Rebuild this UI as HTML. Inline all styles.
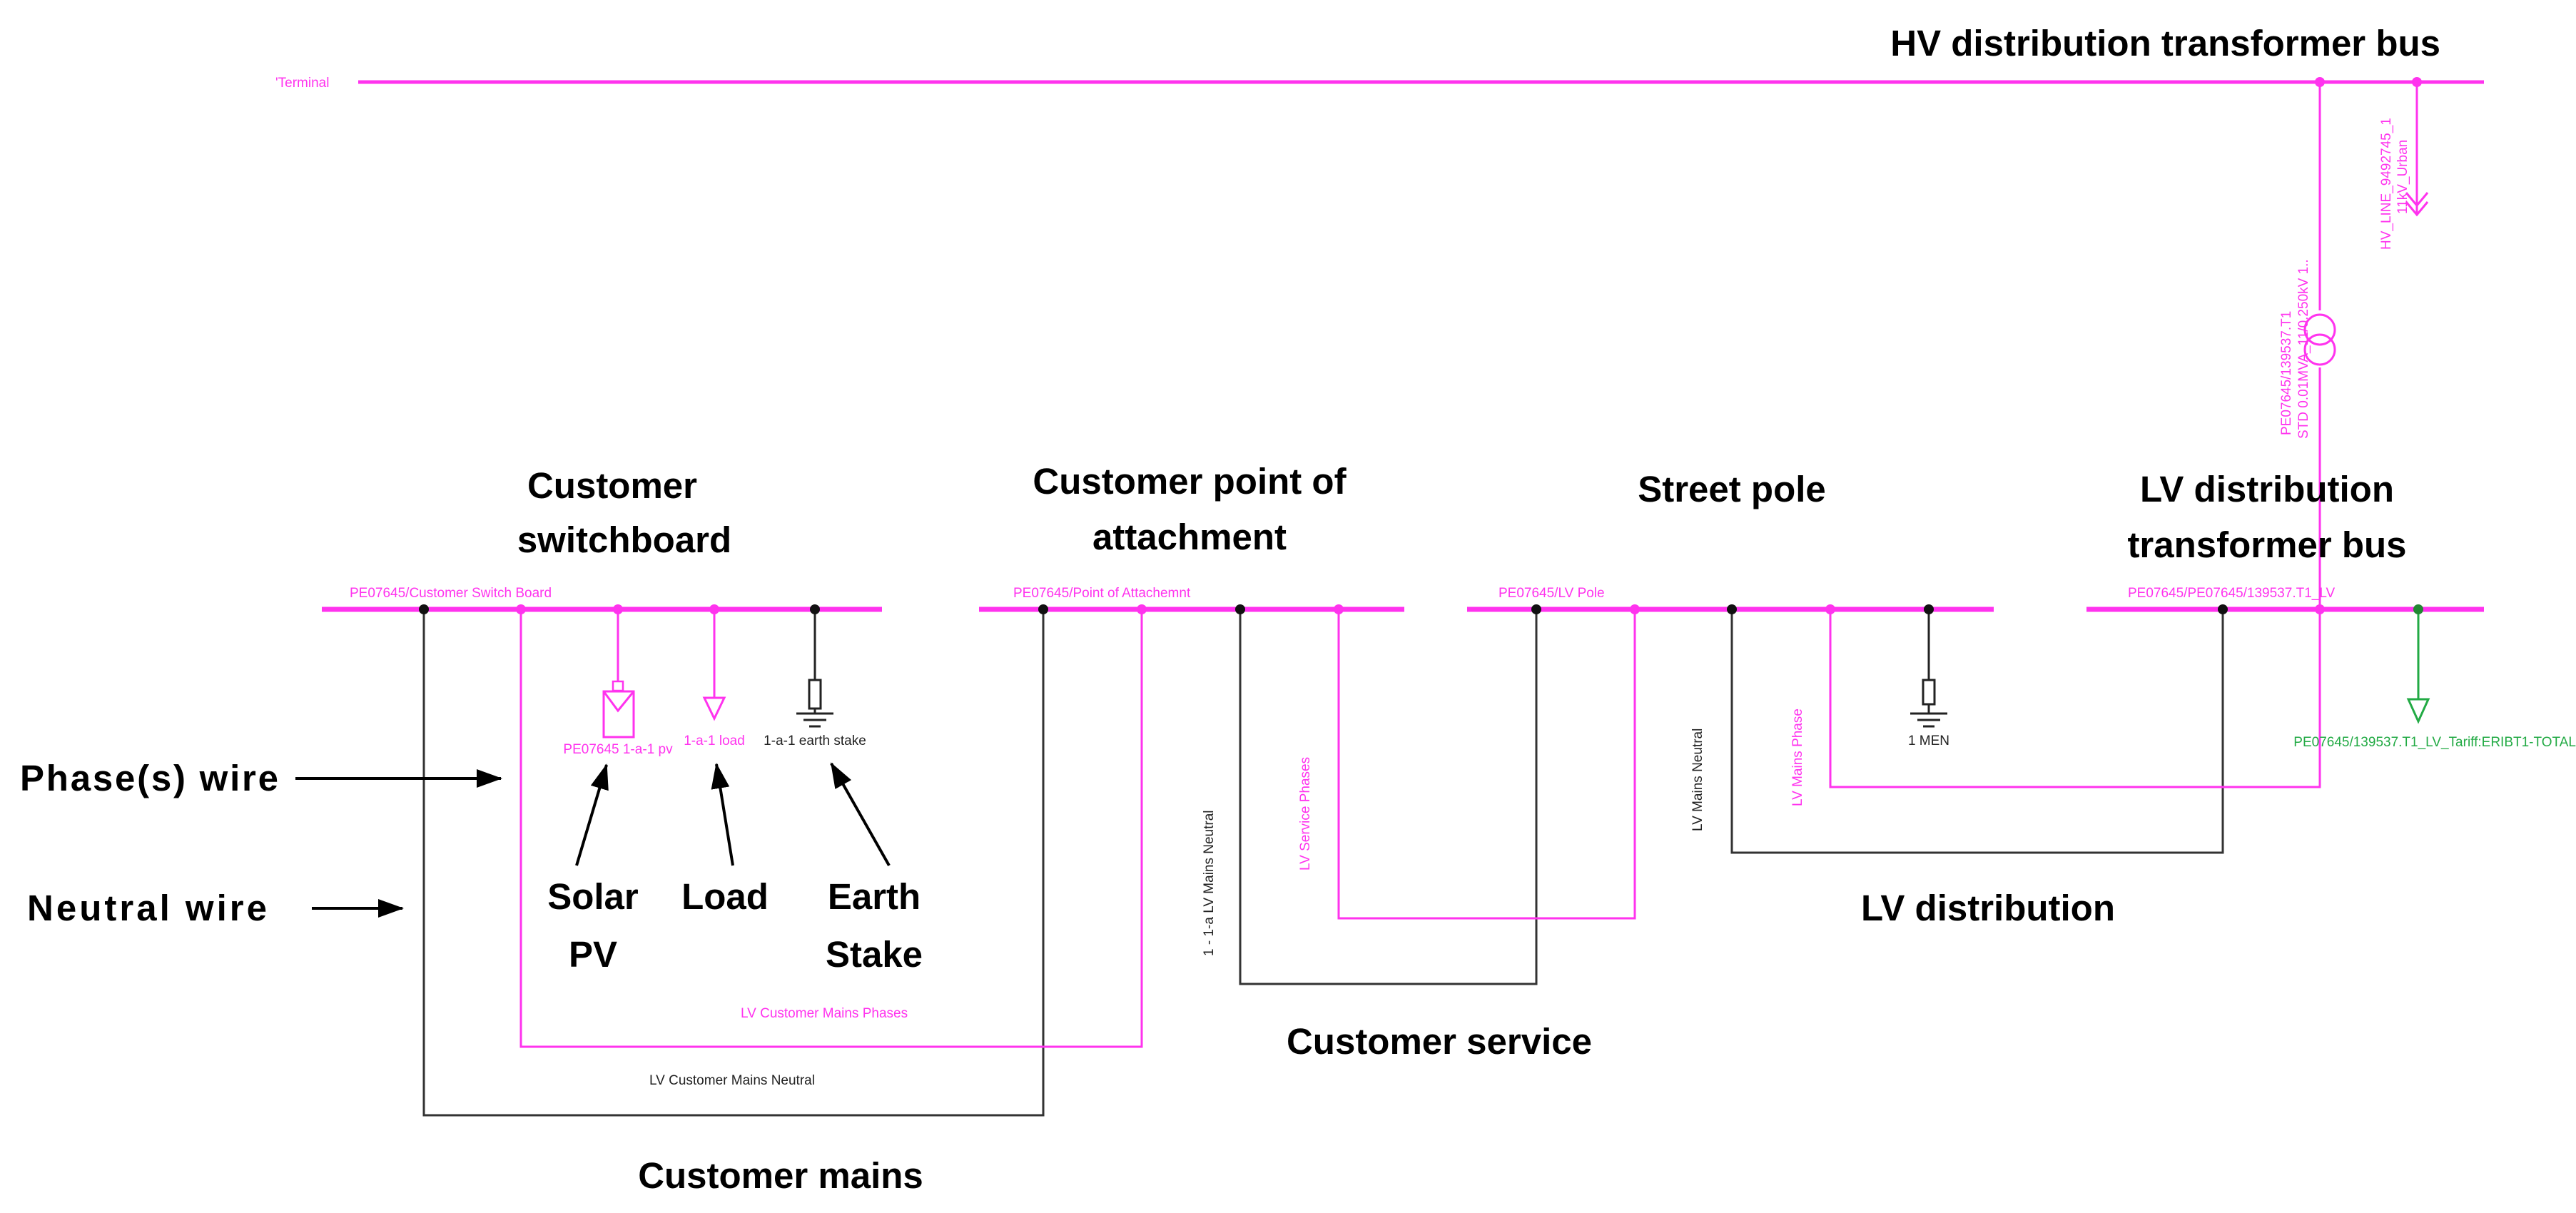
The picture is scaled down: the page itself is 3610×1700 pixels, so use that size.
<!DOCTYPE html>
<html><head><meta charset="utf-8"><style>
html,body{margin:0;padding:0;background:#fff}
svg{display:block}
.b{font-family:"Liberation Sans",sans-serif;font-weight:bold;font-size:51px;fill:#000}
.s{font-family:"Liberation Sans",sans-serif;font-size:19px}
.p{fill:#ff33ee}.k{fill:#222}.g{fill:#22aa44}
</style></head><body>
<svg width="3610" height="1700" viewBox="0 0 3610 1700" xmlns="http://www.w3.org/2000/svg">
<defs>
<marker id="ar2" markerWidth="36" markerHeight="26" refX="34" refY="13" orient="auto" markerUnits="userSpaceOnUse"><path d="M0,0 L36,13 L0,26z" fill="#000"/></marker></defs>

<!-- HV bus -->
<text x="386" y="122" class="s p" font-size="17">'Terminal</text>
<line x1="502" y1="115" x2="3481" y2="115" stroke="#ff33ee" stroke-width="5"/>
<text x="3420" y="78" class="b" text-anchor="end">HV distribution transformer bus</text>

<!-- buses -->
<g stroke="#ff33ee" stroke-width="7">
<line x1="451" y1="854" x2="1236" y2="854"/>
<line x1="1372" y1="854" x2="1968" y2="854"/>
<line x1="2056" y1="854" x2="2794" y2="854"/>
<line x1="2924" y1="854" x2="3481" y2="854"/>
</g>
<g class="s p">
<text x="490" y="837">PE07645/Customer Switch Board</text>
<text x="1420" y="837">PE07645/Point of Attachemnt</text>
<text x="2100" y="837">PE07645/LV Pole</text>
<text x="2982" y="837">PE07645/PE07645/139537.T1_LV</text>
</g>

<!-- wires -->
<g fill="none" stroke-width="3">
<polyline stroke="#333" points="594,854 594,1563 1462,1563 1462,854"/>
<polyline stroke="#ff33ee" points="730,854 730,1467 1600,1467 1600,854"/>
<polyline stroke="#333" points="1738,854 1738,1379 2153,1379 2153,854"/>
<polyline stroke="#ff33ee" points="1876,854 1876,1287 2291,1287 2291,854"/>
<polyline stroke="#333" points="2427,854 2427,1195 3115,1195 3115,854"/>
<polyline stroke="#ff33ee" points="2565,854 2565,1103 3251,1103 3251,115"/>
</g>

<!-- transformer -->
<rect x="3225" y="435" width="52" height="80" fill="#fff"/>
<circle cx="3251" cy="462" r="21" fill="none" stroke="#ff33ee" stroke-width="3"/>
<circle cx="3251" cy="490" r="21" fill="none" stroke="#ff33ee" stroke-width="3"/>
<g class="s p" font-size="17">
<text transform="translate(3210,610) rotate(-90)">PE07645/139537.T1</text>
<text transform="translate(3234,615) rotate(-90)">STD 0.01MVA_11/0.250kV 1..</text>
<text transform="translate(3350,350) rotate(-90)">HV_LINE_9492745_1</text>
<text transform="translate(3373,300) rotate(-90)">11kV_Urban</text>
</g>
<line x1="3387" y1="115" x2="3387" y2="300" stroke="#ff33ee" stroke-width="3"/>
<polyline points="3372,270 3387,288 3402,270" fill="none" stroke="#ff33ee" stroke-width="3"/>
<polyline points="3372,283 3387,301 3402,283" fill="none" stroke="#ff33ee" stroke-width="3"/>

<!-- PV -->
<line x1="866" y1="854" x2="866" y2="955" stroke="#ff33ee" stroke-width="3"/>
<rect x="859" y="955" width="14" height="13" fill="none" stroke="#ff33ee" stroke-width="2.5"/>
<rect x="846" y="969" width="42" height="64" fill="none" stroke="#ff33ee" stroke-width="3"/>
<polyline points="846,969 866,996 888,969" fill="none" stroke="#ff33ee" stroke-width="3"/>
<text x="866" y="1056" class="s p" text-anchor="middle">PE07645 1-a-1 pv</text>
<!-- load -->
<line x1="1001" y1="854" x2="1001" y2="978" stroke="#ff33ee" stroke-width="3"/>
<polygon points="987,978 1015,978 1001,1007" fill="none" stroke="#ff33ee" stroke-width="3"/>
<text x="1001" y="1044" class="s p" text-anchor="middle">1-a-1 load</text>
<!-- earth stake -->
<g stroke="#222" stroke-width="3" fill="none">
<line x1="1142" y1="854" x2="1142" y2="953"/>
<rect x="1134" y="953" width="16" height="40"/>
<line x1="1142" y1="993" x2="1142" y2="1000"/>
<line x1="1116" y1="1000" x2="1168" y2="1000"/>
<line x1="1126" y1="1009" x2="1158" y2="1009"/>
<line x1="1134" y1="1018" x2="1150" y2="1018"/>
<line x1="2703" y1="854" x2="2703" y2="953"/>
<rect x="2695" y="953" width="16" height="34"/>
<line x1="2703" y1="987" x2="2703" y2="1000"/>
<line x1="2677" y1="1000" x2="2729" y2="1000"/>
<line x1="2687" y1="1009" x2="2719" y2="1009"/>
<line x1="2695" y1="1018" x2="2711" y2="1018"/>
</g>
<text x="1142" y="1044" class="s k" text-anchor="middle">1-a-1 earth stake</text>
<text x="2703" y="1044" class="s k" text-anchor="middle">1 MEN</text>
<!-- green load -->
<line x1="3389" y1="854" x2="3389" y2="980" stroke="#22aa44" stroke-width="3"/>
<polygon points="3375,980 3403,980 3389,1011" fill="none" stroke="#22aa44" stroke-width="3"/>
<text x="3610" y="1046" class="s g" text-anchor="end" font-size="17">PE07645/139537.T1_LV_Tariff:ERIBT1-TOTAL</text>

<!-- dots -->
<g fill="#111">
<circle cx="594" cy="854" r="7"/><circle cx="1142" cy="854" r="7"/>
<circle cx="1462" cy="854" r="7"/><circle cx="1738" cy="854" r="7"/>
<circle cx="2153" cy="854" r="7"/><circle cx="2427" cy="854" r="7"/><circle cx="2703" cy="854" r="7"/>
<circle cx="3115" cy="854" r="7"/>
</g>
<g fill="#ff33ee">
<circle cx="730" cy="854" r="7"/><circle cx="866" cy="854" r="7"/><circle cx="1001" cy="854" r="7"/>
<circle cx="1600" cy="854" r="7"/><circle cx="1876" cy="854" r="7"/>
<circle cx="2291" cy="854" r="7"/><circle cx="2565" cy="854" r="7"/>
<circle cx="3251" cy="854" r="7"/><circle cx="3251" cy="115" r="7"/><circle cx="3387" cy="115" r="7"/>
</g>
<circle cx="3389" cy="854" r="7" fill="#228833"/>

<!-- wire labels -->
<g class="s" font-size="17">
<text transform="translate(1700,1340) rotate(-90)" class="k">1 - 1-a LV Mains Neutral</text>
<text transform="translate(1835,1220) rotate(-90)" class="p">LV Service Phases</text>
<text transform="translate(2385,1165) rotate(-90)" class="k">LV Mains Neutral</text>
<text transform="translate(2525,1130) rotate(-90)" class="p">LV Mains Phase</text>
<text x="1038" y="1426" class="p">LV Customer Mains Phases</text>
<text x="910" y="1520" class="k">LV Customer Mains Neutral</text>
</g>

<!-- big labels -->
<g class="b" text-anchor="middle">
<text x="858" y="698">Customer</text>
<text x="875" y="774">switchboard</text>
<text x="1667" y="692">Customer point of</text>
<text x="1667" y="770">attachment</text>
<text x="2427" y="703">Street pole</text>
<text x="3177" y="703">LV distribution</text>
<text x="3177" y="781">transformer bus</text>
<text x="831" y="1274">Solar</text>
<text x="831" y="1355">PV</text>
<text x="1016" y="1274">Load</text>
<text x="1225" y="1274">Earth</text>
<text x="1225" y="1355">Stake</text>
<text x="2786" y="1290">LV distribution</text>
<text x="2017" y="1477">Customer service</text>
<text x="1094" y="1665">Customer mains</text>
</g>
<g class="b">
<text x="28" y="1108" textLength="362">Phase(s) wire</text>
<text x="38" y="1290" textLength="336">Neutral wire</text>
</g>
<g stroke="#000" stroke-width="4">
<line x1="414" y1="1091" x2="702" y2="1091" marker-end="url(#ar2)"/>
<line x1="437" y1="1273" x2="564" y2="1273" marker-end="url(#ar2)"/>
<line x1="808" y1="1213" x2="850" y2="1072" marker-end="url(#ar2)"/>
<line x1="1027" y1="1213" x2="1004" y2="1071" marker-end="url(#ar2)"/>
<line x1="1246" y1="1213" x2="1165" y2="1070" marker-end="url(#ar2)"/>
</g>
</svg>
</body></html>
